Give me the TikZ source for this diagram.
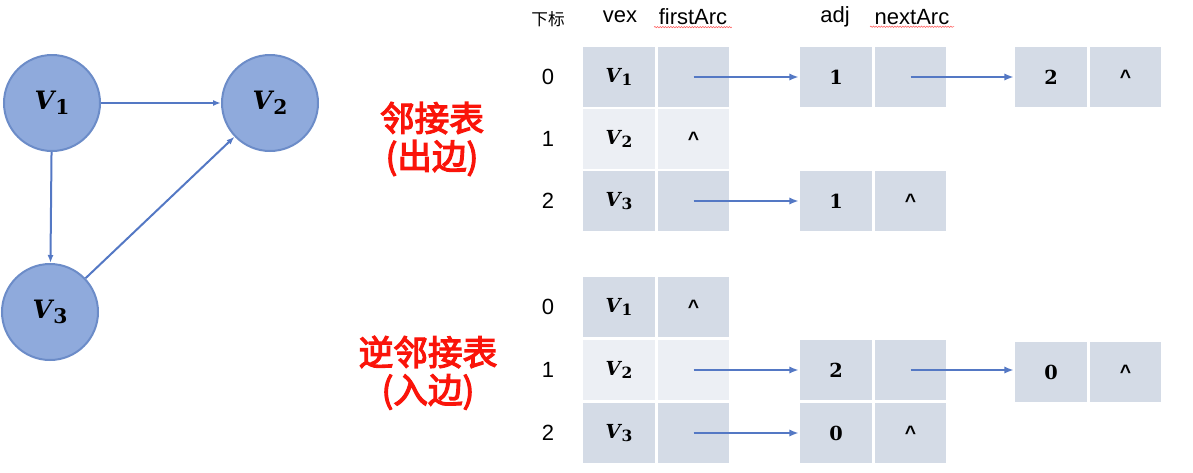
\documentclass[tikz,border=0pt]{standalone}
\usepackage{fontspec}
\setmainfont{Liberation Sans}
\newfontfamily\cjk{Noto Sans CJK SC}
\newfontfamily\cjkbold[FakeBold=3.5]{Noto Sans CJK SC}
\newfontfamily\vfont{DejaVu Serif}
\newcommand{\vname}[1]{{\vfont\bfseries\itshape V}\kern0.04em\raisebox{-0.35ex}{\scalebox{0.8}{\vfont\bfseries #1}}}
\newcommand{\vnum}[1]{{\vfont\bfseries #1}}
\usetikzlibrary{arrows.meta, positioning, decorations.pathmorphing}
\definecolor{nodeblue}{RGB}{143,170,220}
\definecolor{rimblue}{RGB}{108,140,200}
\definecolor{edgeblue}{RGB}{84,120,196}
\definecolor{celldark}{RGB}{212,219,230}
\definecolor{celllight}{RGB}{236,239,244}
\definecolor{lblred}{RGB}{250,20,10}

\begin{document}
\begin{tikzpicture}[x=0.75pt, y=-0.75pt, node distance=0pt,
  vertex/.style={circle, fill=nodeblue, draw=rimblue, line width=1.5pt, minimum size=72pt, inner sep=0pt, font=\fontsize{19}{22}\selectfont},
  gedge/.style={edgeblue, line width=1.5pt, -{Latex[length=6pt, width=4.5pt]}},
  cell/.style={rectangle, fill=celldark, draw=white, line width=1.2pt, minimum width=54.75pt, minimum height=46.5pt, inner sep=0pt, font=\fontsize{14.5}{18}\selectfont},
  pale/.style={cell, fill=celllight},
  link/.style={edgeblue, line width=2pt, -{Latex[length=7pt, width=5.5pt]}},
  head/.style={font=\fontsize{16.5}{20}\selectfont},
  idx/.style={font=\fontsize{16.5}{20}\selectfont},
  redlbl/.style={text=lblred, font=\cjkbold\fontsize{26}{30}\selectfont},
  squig/.style={red!65, line width=0.4pt, decorate, decoration={snake, amplitude=0.5pt, segment length=2pt}}]
\useasboundingbox (0,0) rectangle (1193,472);

% graph
\node[vertex] (v1) at (52,103) {\vname{1}};
\node[vertex] (v2) at (270,103) {\vname{2}};
\node[vertex] (v3) at (50,312) {\vname{3}};
\draw[gedge] (v1) -- (v2);
\draw[gedge] (v1) -- (v3);
\draw[gedge] (v3) -- (v2);

% titles
\node[redlbl] (out1) at (432,118) {邻接表};
\node[redlbl] (out2) at (432,158) {(出边)};
\node[redlbl] (in1) at (428,352) {逆邻接表};
\node[redlbl] (in2) at (428,392) {(入边)};

% column heads
\node[font=\cjk\fontsize{12.5}{14}\selectfont] (hi) at (548,19) {下标};
\node[head] (hv) at (620,17) {vex};
\node[head] (hf) at (693,17) {firstArc};
\node[head] (ha) at (835,17) {adj};
\node[head] (hn) at (912,17) {nextArc};
\draw[squig] ([yshift=2pt]hf.south west) -- ([yshift=2pt]hf.south east);
\draw[squig] ([yshift=2pt]hn.south west) -- ([yshift=2pt]hn.south east);

% out-edge table
\node[idx] (r0) at (548,77) {0};
\node[idx] (r1) at (548,139) {1};
\node[idx] (r2) at (548,201) {2};
\node[cell] (tv0) at (619,77) {\vname{1}};
\node[cell, right=of tv0] (tf0) {};
\node[pale] (tv1) at (619,139) {\vname{2}};
\node[pale, right=of tv1] (tf1) {\textbf{\textasciicircum}};
\node[cell] (tv2) at (619,201) {\vname{3}};
\node[cell, right=of tv2] (tf2) {};
\node[cell] (a0) at (836,77) {\vnum{1}};
\node[cell, right=of a0] (n0) {};
\node[cell] (b0) at (1051,77) {\vnum{2}};
\node[cell, right=of b0] (m0) {\textbf{\textasciicircum}};
\node[cell] (a2) at (836,201) {\vnum{1}};
\node[cell, right=of a2] (n2) {\textbf{\textasciicircum}};
\draw[link] (tf0.center) -- (a0.west);
\draw[link] (n0.center) -- (b0.west);
\draw[link] (tf2.center) -- (a2.west);

% in-edge table
\node[idx] (s0) at (548,307) {0};
\node[idx] (s1) at (548,370) {1};
\node[idx] (s2) at (548,433) {2};
\node[cell] (bv0) at (619,307) {\vname{1}};
\node[cell, right=of bv0] (bf0) {\textbf{\textasciicircum}};
\node[pale] (bv1) at (619,370) {\vname{2}};
\node[pale, right=of bv1] (bf1) {};
\node[cell] (bv2) at (619,433) {\vname{3}};
\node[cell, right=of bv2] (bf2) {};
\node[cell] (c1) at (836,370) {\vnum{2}};
\node[cell, right=of c1] (p1) {};
\node[cell] (c2) at (836,433) {\vnum{0}};
\node[cell, right=of c2] (p2) {\textbf{\textasciicircum}};
\node[cell] (d1) at (1051,372) {\vnum{0}};
\node[cell, right=of d1] (q1) {\textbf{\textasciicircum}};
\draw[link] (bf1.center) -- (c1.west);
\draw[link] (p1.center) -- (p1.center -| d1.west);
\draw[link] (bf2.center) -- (c2.west);
\end{tikzpicture}
\end{document}
